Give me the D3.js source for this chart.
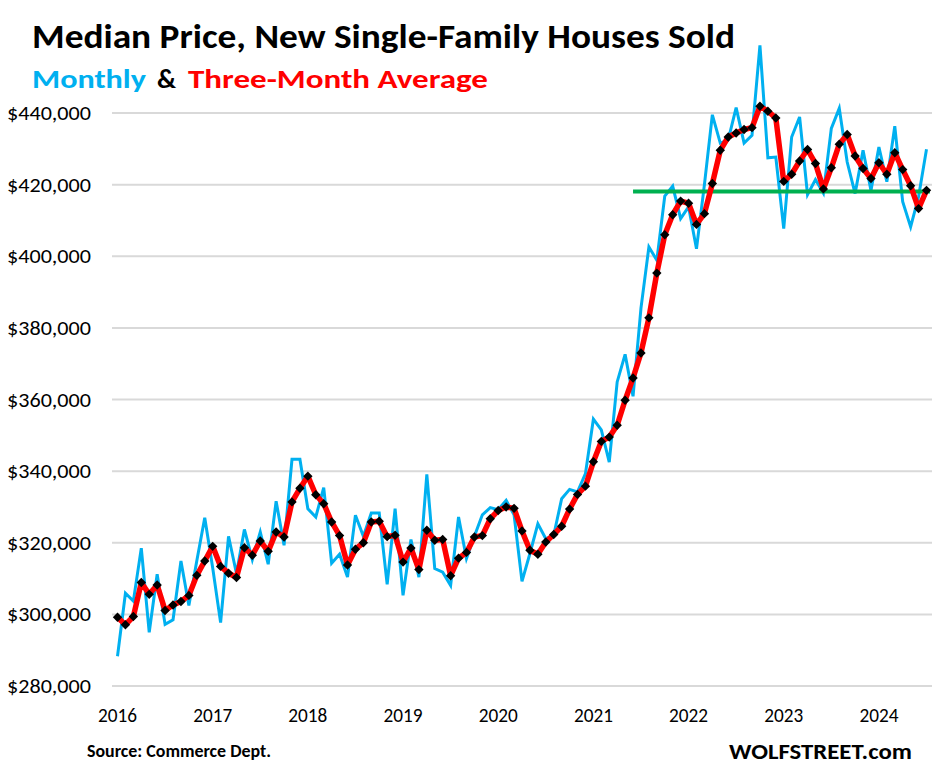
<!DOCTYPE html>
<html><head><meta charset="utf-8">
<script src="https://cdn.jsdelivr.net/npm/d3@7"></script>
<style>body{margin:0;background:#fff}svg{display:block}text{font-family:Carlito,Calibri,Lato,"Open Sans",sans-serif}</style>
</head><body><svg id="c" width="938" height="776"></svg>
<script>
// Monthly median price of new single-family houses sold (thousand $), Jan 2016 .. Jul 2024
const monthly = [288.3,305.9,303.7,318.5,295.0,311.2,297.2,298.5,314.9,302.5,315.0,327.0,
313.0,297.7,321.8,311.4,323.7,315.3,323.0,314.0,331.6,319.3,343.3,343.3,
329.5,327.2,335.4,314.3,316.8,310.4,327.7,321.8,328.3,328.3,308.4,329.5,
305.3,320.9,310.4,339.1,312.8,311.8,308.1,327.2,315.6,321.8,327.8,329.8,
329.2,331.8,327.8,309.2,317.0,325.3,321.1,322.1,332.3,334.9,334.2,339.3,
354.5,351.5,342.5,364.9,372.6,360.9,385.5,402.6,398.9,416.8,419.6,410.5,
413.8,402.1,420.0,439.5,431.6,432.5,441.5,431.6,433.8,458.9,427.5,427.7,
407.7,433.3,438.9,417.2,421.4,417.6,435.7,441.3,426.3,417.5,429.6,418.4,
430.5,420.8,436.3,415.2,408.2,416.6,429.9];
// Three-month average (thousand $)
const threeMonthAvg = [299.2,297.1,299.4,308.9,305.6,308.2,301.1,302.6,303.6,305.3,310.9,314.9,
319.0,313.4,311.5,310.3,318.6,316.5,320.5,317.6,323.0,321.6,331.4,335.2,
338.6,333.4,330.9,325.8,322.0,313.8,318.2,320.0,325.8,326.0,321.7,322.1,
314.6,318.5,312.5,323.5,320.7,320.9,310.8,315.7,317.3,321.6,322.0,326.7,
329.0,330.0,329.6,323.3,317.9,316.8,320.2,322.3,324.6,329.4,333.5,335.8,
342.6,348.3,349.5,352.8,359.8,366.0,373.0,382.8,395.3,406.0,411.6,415.4,
414.8,408.9,411.9,420.3,429.6,433.3,434.4,435.4,435.9,441.9,440.5,438.6,
420.9,422.9,426.6,429.8,425.9,418.8,424.7,431.3,434.0,428.0,424.5,421.7,
426.1,422.9,428.9,424.2,419.7,413.3,418.4];
// Reference level (current 3-month average), from Jun 2021
const refLevel = 418.1;
const refStart = "2021-06";
const yTicks = [280,300,320,340,360,380,400,420,440];
const yearLabels = ["2016","2017","2018","2019","2020","2021","2022","2023","2024"];

const fmtM = d3.timeFormat("%Y-%m");
const months = d3.timeMonth.range(new Date(2016,0,1), new Date(2024,7,1)).map(fmtM);

const svg = d3.select("#c");
const x = d3.scalePoint().domain(months).range([117.5, 926.5]);
const y = d3.scaleLinear().domain([280,440]).range([686,113]);
const gx0 = 112, gx1 = 932;

function fit(sel, w){ sel.attr("textLength", w).attr("lengthAdjust","spacingAndGlyphs"); return sel; }

// gridlines
svg.append("g").selectAll("line").data(yTicks).join("line")
  .attr("x1",gx0).attr("x2",gx1).attr("y1",d=>y(d)).attr("y2",d=>y(d))
  .attr("stroke","#d9d9d9").attr("stroke-width",2);

// y labels
svg.append("g").selectAll("text").data(yTicks).join("text")
  .attr("x",7).attr("y",d=>y(d)+7).attr("font-size",20).attr("fill","#000")
  .text(d=>"$"+d3.format(",")(d*1000))
  .each(function(){ fit(d3.select(this),84); });

// x labels
svg.append("g").selectAll("text").data(yearLabels).join("text")
  .attr("x",d=>x(d+"-01")).attr("y",722).attr("text-anchor","middle")
  .attr("font-size",20).attr("fill","#000").text(d=>d)
  .each(function(){ fit(d3.select(this),39); });

const line = d3.line().x((d,i)=>x(months[i])).y(d=>y(d));

svg.append("path").datum(monthly).attr("d",line)
  .attr("fill","none").attr("stroke","#00b0f0").attr("stroke-width",3).attr("stroke-linejoin","miter");

// reference line
const ri = months.indexOf(refStart);
svg.append("line").attr("x1",x(months[ri])).attr("x2",gx1-2)
  .attr("y1",y(refLevel)).attr("y2",y(refLevel)).attr("stroke","#00b050").attr("stroke-width",4);

svg.append("path").datum(threeMonthAvg).attr("d",line)
  .attr("fill","none").attr("stroke","#ff0000").attr("stroke-width",5.5).attr("stroke-linejoin","round");

svg.append("g").selectAll("path").data(threeMonthAvg).join("path")
  .attr("d",d3.symbol(d3.symbolSquare, 44))
  .attr("transform",(d,i)=>`translate(${x(months[i])},${y(d)}) rotate(45)`)
  .attr("fill","#000");

// titles
fit(svg.append("text").attr("x",32).attr("y",48).attr("font-size",35).attr("font-weight","bold")
  .attr("fill","#000").text("Median Price, New Single-Family Houses Sold"),703);
fit(svg.append("text").attr("x",32).attr("y",88).attr("font-size",27).attr("font-weight","bold")
  .attr("fill","#00b0f0").text("Monthly"),114);
fit(svg.append("text").attr("x",157).attr("y",88).attr("font-size",27).attr("font-weight","bold")
  .attr("fill","#000").text("&"),19);
fit(svg.append("text").attr("x",188).attr("y",88).attr("font-size",27).attr("font-weight","bold")
  .attr("fill","#ff0000").text("Three-Month Average"),300);

fit(svg.append("text").attr("x",87).attr("y",757).attr("font-size",17).attr("font-weight","bold")
  .attr("fill","#000").text("Source: Commerce Dept."),184);
fit(svg.append("text").attr("x",729).attr("y",759).attr("font-size",22).attr("font-weight","bold")
  .attr("fill","#000").text("WOLFSTREET.com"),183);
</script></body></html>
